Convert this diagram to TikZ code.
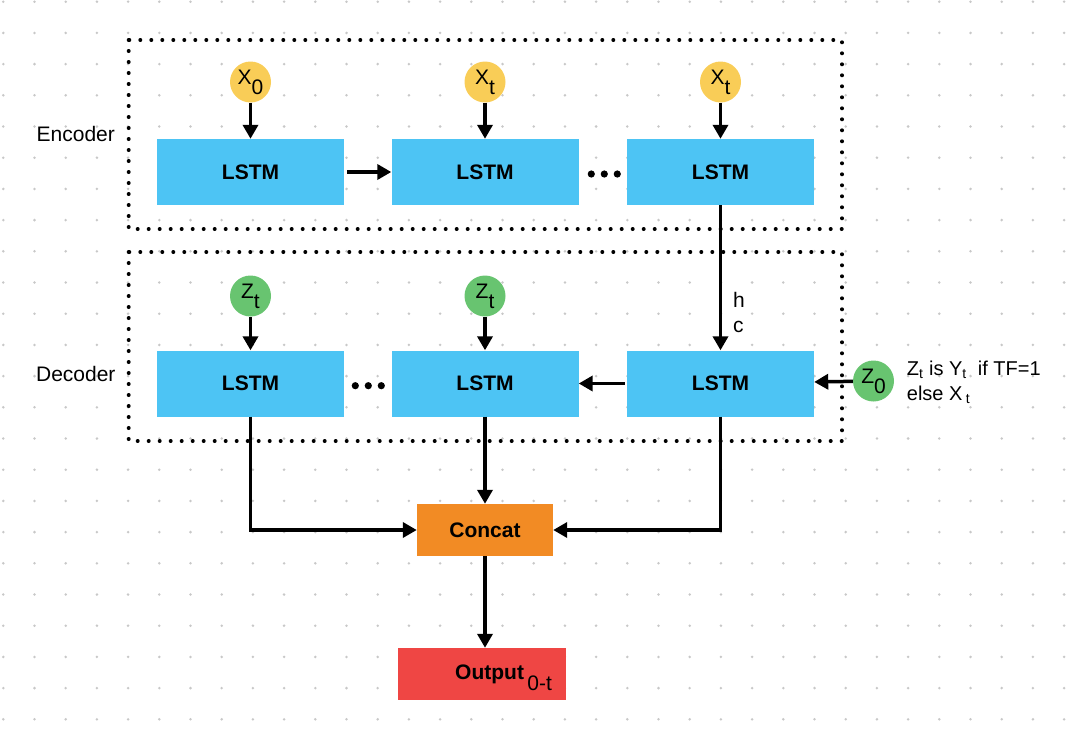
\documentclass[tikz,border=0pt]{standalone}
\usepackage{fontspec}
\setmainfont{Liberation Sans}
\usetikzlibrary{arrows.meta,positioning}
\definecolor{lstmblue}{RGB}{77,196,244}
\definecolor{inyellow}{RGB}{249,205,87}
\definecolor{ingreen}{RGB}{104,196,112}
\definecolor{catorange}{RGB}{242,139,36}
\definecolor{outred}{RGB}{239,70,68}
\definecolor{griddot}{RGB}{200,200,200}
\newcommand{\circsub}[2]{#1\raisebox{-10pt}{#2}}
\newcommand{\pxfont}[1]{\fontsize{#1}{#1}\selectfont}

\begin{document}
\begin{tikzpicture}[x=1pt, y=-1pt,
    lstm/.style={fill=lstmblue, minimum width=187pt, minimum height=66pt, inner sep=0pt, font=\bfseries\pxfont{21}},
    xin/.style={circle, fill=inyellow, minimum size=41pt, inner sep=0pt, font=\pxfont{21}},
    zin/.style={circle, fill=ingreen, minimum size=41pt, inner sep=0pt, font=\pxfont{21}},
    lbl/.style={inner sep=0pt, font=\pxfont{21}},
    conn/.style={line width=3.5pt, -{Triangle[length=14pt, width=15pt]}},
    groupbox/.style={line width=4pt, line cap=round, dash pattern=on 0pt off 11pt}
]
\useasboundingbox (0,0) rectangle (1087,747);
% background grid of dots
\foreach \i in {0,...,34}
  \foreach \j in {0,...,23}
    \fill[griddot] (3.3+31.2*\i, 1.7+31.2*\j) circle [radius=1.4];
% group frames
\draw[groupbox] (128.7,40) rectangle (842,229); % encoder frame
\draw[groupbox] (128.7,252) rectangle (842,441); % decoder frame
\node[lbl, anchor=base] (enclbl) at (75.8,141.7) {Encoder};
\node[lbl, anchor=base] (declbl) at (75.8,381.5) {Decoder};
% encoder row
\node[lstm] (enc1) at (250.5,172) {LSTM};
\node[lstm] (enc2) at (485,172) {LSTM};
\node[lstm] (enc3) at (720.5,172) {LSTM};
\node[xin] (x0) at (250.5,82) {\circsub{X}{0}};
\node[xin] (xt1) at (485,82) {\circsub{X}{t}};
\node[xin] (xt2) at (720.5,82) {\circsub{X}{t}};
% decoder row
\node[lstm] (dec1) at (250.5,383.5) {LSTM};
\node[lstm] (dec2) at (485,383.5) {LSTM};
\node[lstm] (dec3) at (720.5,383.5) {LSTM};
\node[zin] (zt1) at (250.5,296) {\circsub{Z}{t}};
\node[zin] (zt2) at (485,296) {\circsub{Z}{t}};
\node[zin] (z0) at (873.5,381) {\circsub{Z}{0}};
% ellipsis dots
\foreach \dx in {0,13,26} {
  \fill (591.3+\dx,174) circle [radius=3.6]; % encoder gap
  \fill (355.3+\dx,385.7) circle [radius=3.6]; % decoder gap
}
% merge and output
\node[fill=catorange, minimum width=136pt, minimum height=52pt, inner sep=0pt, font=\bfseries\pxfont{21}] (cat) at (485,530) {Concat};
\node[fill=outred, minimum width=168pt, minimum height=52pt, text width=140pt, inner xsep=14pt, inner ysep=0pt, align=right, font=\pxfont{21}] (out) at (482,674) {\textbf{Output}\,\raisebox{-11pt}[0pt][0pt]{0-t}};
% connectors
\draw[conn] (x0) -- (enc1);
\draw[conn] (xt1) -- (enc2);
\draw[conn] (xt2) -- (enc3);
\draw[conn, shorten <=3pt] (enc1) -- (enc2);
\draw[conn] (enc3) -- (dec3); % hidden and cell state
\node[lbl, anchor=base west] (hlbl) at (733,307.3) {h};
\node[lbl, anchor=base west] (clbl) at (733,332.7) {c};
\draw[conn] (zt1) -- (dec1);
\draw[conn] (zt2) -- (dec2);
\draw[conn, shorten <=2pt] (dec3) -- (dec2);
\draw[conn] (z0) -- (dec3);
\node[lbl, anchor=base west, font=\pxfont{20}] (tfa) at (906.7,375) {Z\textsubscript{t} is Y\textsubscript{t}\ \ if TF=1};
\node[lbl, anchor=base west, font=\pxfont{20}] (tfb) at (906.7,400) {else X\,\textsubscript{t}};
\draw[conn] (dec1.south) |- (cat.west);
\draw[conn] (dec2) -- (cat);
\draw[conn] (dec3.south) |- (cat.east);
\draw[conn] (cat.south) -- (out.north -| cat.south);
\end{tikzpicture}
\end{document}
